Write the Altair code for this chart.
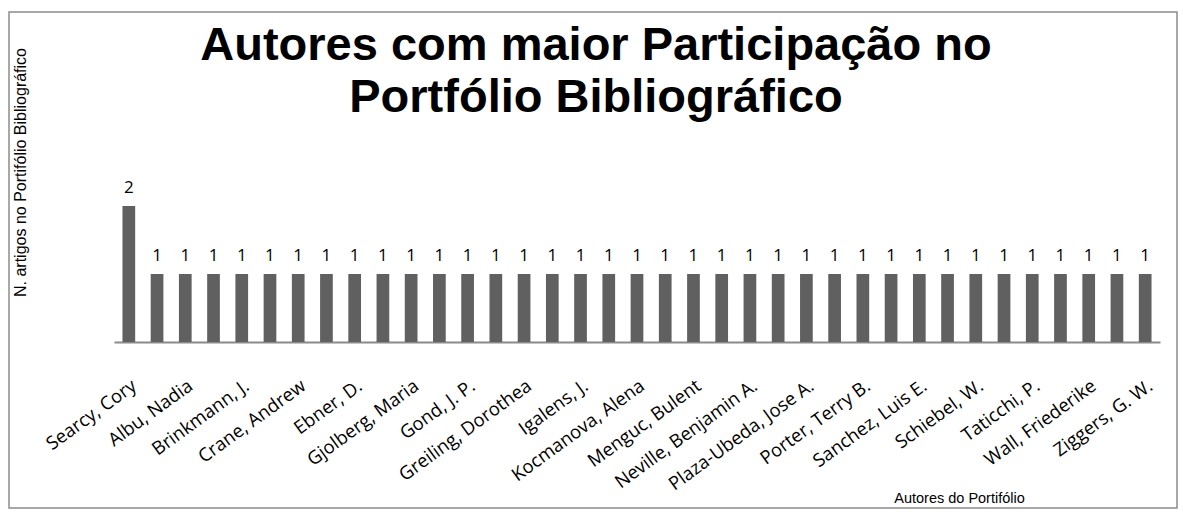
import json
import altair as alt
import pandas as pd

# Visible author labels (Excel shows every other category label)
autores_visiveis = [
    "Searcy, Cory", "Albu, Nadia", "Brinkmann, J.", "Crane, Andrew",
    "Ebner, D.", "Gjolberg, Maria", "Gond, J. P.", "Greiling, Dorothea",
    "Igalens, J.", "Kocmanova, Alena", "Menguc, Bulent",
    "Neville, Benjamin A.", "Plaza-Ubeda, Jose A.", "Porter, Terry B.",
    "Sanchez, Luis E.", "Schiebel, W.", "Taticchi, P.", "Wall, Friederike",
    "Ziggers, G. W.",
]

# Number of articles per author (37 bars)
artigos = [2, 1, 1, 1, 1, 1, 1, 1, 1, 1, 1, 1, 1, 1, 1, 1, 1, 1, 1,
           1, 1, 1, 1, 1, 1, 1, 1, 1, 1, 1, 1, 1, 1, 1, 1, 1, 1]

posicao = list(range(1, len(artigos) + 1))
rotulos = [autores_visiveis[i // 2] if i % 2 == 0 else "" for i in range(len(artigos))]

df = pd.DataFrame({"pos": posicao, "artigos": artigos, "rotulo": rotulos})

label_expr = "[" + ",".join(json.dumps(r) for r in rotulos) + "][datum.value - 1]"

W, H = 1046, 170
PAD_L, PAD_T, PAD_R, PAD_B = 106, 164, 18, 167

base = alt.Chart(df).encode(
    x=alt.X(
        "pos:O",
        sort=None,
        scale=alt.Scale(paddingInner=0.55, paddingOuter=0.3),
        axis=alt.Axis(
            title="Autores do  Portifólio",
            titleFont="Liberation Sans",
            titleFontSize=14.5,
            titleFontWeight="normal",
            titleColor="black",
            titleX=845,
            titleY=160,
            titleAlign="center",
            titleBaseline="alphabetic",
            labelExpr=label_expr,
            labelAngle=-36,
            labelFont="Open Sans",
            labelFontSize=18.5,
            labelColor="black",
            labelPadding=34,
            labelOverlap=False,
            labelLimit=300,
            ticks=False,
            domainColor="#8a8a8a",
            domainWidth=2,
        ),
    ),
    y=alt.Y(
        "artigos:Q",
        scale=alt.Scale(domain=[0, 2.5]),
        axis=alt.Axis(
            title="N. artigos no Portifólio Bibliográfico",
            titleFont="Liberation Sans",
            titleFontSize=16,
            titleFontWeight="normal",
            titleColor="black",
            titleX=-94,
            titleY=0,
            titleAngle=-90,
            titleAlign="center",
            titleBaseline="middle",
            labels=False,
            ticks=False,
            domain=False,
            grid=False,
        ),
    ),
)

bars = base.mark_bar(color="#606060")
text = base.mark_text(
    baseline="bottom", dy=-9, font="Open Sans", fontSize=17, color="black"
).encode(text="artigos:Q")

border = alt.Chart(alt.Data(values=[{}])).mark_rect(
    fillOpacity=0, stroke="#8c8c8c", strokeWidth=1.5
).encode(
    x=alt.value(-PAD_L + 1), x2=alt.value(W + PAD_R - 1),
    y=alt.value(-PAD_T + 4), y2=alt.value(H + PAD_B - 1),
)

chart = alt.layer(border, bars, text).properties(
    width=W,
    height=H,
    autosize=alt.AutoSizeParams(type="none"),
    padding={"left": PAD_L, "top": PAD_T, "right": PAD_R, "bottom": PAD_B},
    title=alt.TitleParams(
        ["Autores com maior Participação no", "Portfólio Bibliográfico"],
        font="Liberation Sans",
        fontSize=47,
        fontWeight="bold",
        color="black",
        anchor="middle",
        lineHeight=52,
        dx=-41,
        offset=-111,
    ),
).configure_view(stroke="transparent")

chart.save("out.html", embed_options={"renderer": "svg", "actions": False})
